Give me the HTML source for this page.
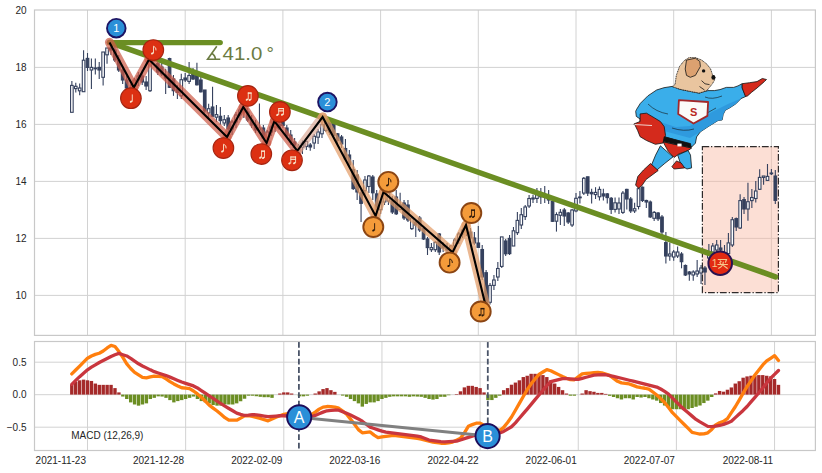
<!DOCTYPE html><html><head><meta charset="utf-8"><style>html,body{margin:0;padding:0;background:#fff;}svg{display:block;}text{font-family:"Liberation Sans",sans-serif;}</style></head><body>
<svg width="822" height="473" viewBox="0 0 822 473">
<rect width="822" height="473" fill="#fff"/>
<g stroke="#d2d2d2" stroke-width="1" fill="none">
<line x1="34.5" y1="238.4" x2="815.4" y2="238.4"/>
<line x1="34.5" y1="181.4" x2="815.4" y2="181.4"/>
<line x1="34.5" y1="124.4" x2="815.4" y2="124.4"/>
<line x1="34.5" y1="67.4" x2="815.4" y2="67.4"/>
<line x1="34.5" y1="295.4" x2="815.4" y2="295.4"/>
<line x1="87.5" y1="10.0" x2="87.5" y2="335.4"/>
<line x1="185.2" y1="10.0" x2="185.2" y2="335.4"/>
<line x1="282.9" y1="10.0" x2="282.9" y2="335.4"/>
<line x1="380.6" y1="10.0" x2="380.6" y2="335.4"/>
<line x1="478.3" y1="10.0" x2="478.3" y2="335.4"/>
<line x1="576" y1="10.0" x2="576" y2="335.4"/>
<line x1="673.7" y1="10.0" x2="673.7" y2="335.4"/>
<line x1="771.4" y1="10.0" x2="771.4" y2="335.4"/>
</g>
<g stroke="#d2d2d2" stroke-width="1" fill="none">
<line x1="34.5" y1="362.2" x2="815.4" y2="362.2"/>
<line x1="34.5" y1="394.7" x2="815.4" y2="394.7"/>
<line x1="34.5" y1="427.2" x2="815.4" y2="427.2"/>
<line x1="87.5" y1="341.5" x2="87.5" y2="450.5"/>
<line x1="185.65" y1="341.5" x2="185.65" y2="450.5"/>
<line x1="283.8" y1="341.5" x2="283.8" y2="450.5"/>
<line x1="381.95" y1="341.5" x2="381.95" y2="450.5"/>
<line x1="480.1" y1="341.5" x2="480.1" y2="450.5"/>
<line x1="578.25" y1="341.5" x2="578.25" y2="450.5"/>
<line x1="676.4" y1="341.5" x2="676.4" y2="450.5"/>
<line x1="774.55" y1="341.5" x2="774.55" y2="450.5"/>
</g>
<g font-size="10" fill="#262626" text-anchor="end">
<text x="26.5" y="299">10</text>
<text x="26.5" y="242">12</text>
<text x="26.5" y="185">14</text>
<text x="26.5" y="128">16</text>
<text x="26.5" y="71">18</text>
<text x="26.5" y="14">20</text>
<text x="26.5" y="365.8">0.5</text>
<text x="26.5" y="398.3">0.0</text>
<text x="26.5" y="430.8">−0.5</text>
<text x="86" y="464.3">2021-11-23</text>
<text x="184.15" y="464.3">2021-12-28</text>
<text x="282.3" y="464.3">2022-02-09</text>
<text x="380.45" y="464.3">2022-03-16</text>
<text x="478.6" y="464.3">2022-04-22</text>
<text x="576.75" y="464.3">2022-06-01</text>
<text x="674.9" y="464.3">2022-07-07</text>
<text x="773.05" y="464.3">2022-08-11</text>
</g>
<rect x="702.4" y="146.6" width="76" height="146" fill="#f9b9a2" fill-opacity="0.45"/>
<g stroke="#35415e" stroke-width="1.1">
<line x1="71.87" y1="80.9" x2="71.87" y2="112.3"/>
<rect x="70.57" y="85.4" width="2.6" height="26.9" fill="#fff"/>
<line x1="75.78" y1="82.7" x2="75.78" y2="92.5"/>
<rect x="74.48" y="86.3" width="2.6" height="2.3" fill="#fff"/>
<line x1="79.68" y1="83.6" x2="79.68" y2="95.3"/>
<rect x="78.38" y="88" width="2.6" height="2.8" fill="#fff"/>
<line x1="83.59" y1="50.3" x2="83.59" y2="91.7"/>
<rect x="82.29" y="60.2" width="2.6" height="31.5" fill="#fff"/>
<line x1="87.5" y1="53" x2="87.5" y2="71"/>
<rect x="86.2" y="58.4" width="2.6" height="9" fill="#35415e"/>
<line x1="91.41" y1="58.4" x2="91.41" y2="89"/>
<rect x="90.11" y="67.4" width="2.6" height="2.6" fill="#fff"/>
<line x1="95.32" y1="58.4" x2="95.32" y2="74.6"/>
<rect x="94.02" y="68" width="2.6" height="0.8" fill="#fff"/>
<line x1="99.22" y1="62" x2="99.22" y2="79"/>
<rect x="97.92" y="67.4" width="2.6" height="2.6" fill="#35415e"/>
<line x1="103.13" y1="52" x2="103.13" y2="85.4"/>
<rect x="101.83" y="52" width="2.6" height="25.3" fill="#fff"/>
<line x1="107.04" y1="48" x2="107.04" y2="63.8"/>
<rect x="105.74" y="48" width="2.6" height="6.8" fill="#fff"/>
<line x1="110.95" y1="42" x2="110.95" y2="55"/>
<rect x="109.65" y="48" width="2.6" height="2" fill="#35415e"/>
<line x1="114.86" y1="46" x2="114.86" y2="62"/>
<rect x="113.56" y="50" width="2.6" height="10" fill="#35415e"/>
<line x1="118.76" y1="55" x2="118.76" y2="72"/>
<rect x="117.46" y="60" width="2.6" height="10" fill="#35415e"/>
<line x1="122.67" y1="66" x2="122.67" y2="84"/>
<rect x="121.37" y="70" width="2.6" height="10" fill="#35415e"/>
<line x1="126.58" y1="76" x2="126.58" y2="92"/>
<rect x="125.28" y="80" width="2.6" height="8" fill="#35415e"/>
<line x1="130.49" y1="84" x2="130.49" y2="92"/>
<rect x="129.19" y="88" width="2.6" height="2" fill="#35415e"/>
<line x1="134.4" y1="78" x2="134.4" y2="88"/>
<rect x="133.1" y="80" width="2.6" height="6" fill="#fff"/>
<line x1="138.3" y1="72" x2="138.3" y2="86"/>
<rect x="137" y="76" width="2.6" height="4" fill="#fff"/>
<line x1="142.21" y1="70" x2="142.21" y2="85"/>
<rect x="140.91" y="76" width="2.6" height="6" fill="#35415e"/>
<line x1="146.12" y1="76" x2="146.12" y2="90"/>
<rect x="144.82" y="82" width="2.6" height="4" fill="#35415e"/>
<line x1="150.03" y1="48.5" x2="150.03" y2="92"/>
<rect x="148.73" y="50" width="2.6" height="40.7" fill="#fff"/>
<line x1="153.94" y1="48" x2="153.94" y2="62"/>
<rect x="152.64" y="50" width="2.6" height="8" fill="#35415e"/>
<line x1="157.84" y1="60" x2="157.84" y2="75"/>
<rect x="156.54" y="63.7" width="2.6" height="8.3" fill="#35415e"/>
<line x1="161.75" y1="63" x2="161.75" y2="76"/>
<rect x="160.45" y="67" width="2.6" height="6.8" fill="#35415e"/>
<line x1="165.66" y1="68.7" x2="165.66" y2="94"/>
<rect x="164.36" y="75" width="2.6" height="3" fill="#35415e"/>
<line x1="169.57" y1="57.7" x2="169.57" y2="88"/>
<rect x="168.27" y="58.6" width="2.6" height="28.7" fill="#35415e"/>
<line x1="173.48" y1="75" x2="173.48" y2="95.8"/>
<rect x="172.18" y="78.9" width="2.6" height="11.8" fill="#35415e"/>
<line x1="177.38" y1="85" x2="177.38" y2="99"/>
<rect x="176.08" y="89" width="2.6" height="3.4" fill="#35415e"/>
<line x1="181.29" y1="73.8" x2="181.29" y2="99"/>
<rect x="179.99" y="79.7" width="2.6" height="16.1" fill="#fff"/>
<line x1="185.2" y1="73" x2="185.2" y2="82"/>
<rect x="183.9" y="78" width="2.6" height="2" fill="#35415e"/>
<line x1="189.11" y1="62" x2="189.11" y2="84"/>
<rect x="187.81" y="75.5" width="2.6" height="5.9" fill="#fff"/>
<line x1="193.02" y1="68" x2="193.02" y2="80"/>
<rect x="191.72" y="73" width="2.6" height="6" fill="#35415e"/>
<line x1="196.92" y1="62.8" x2="196.92" y2="85.6"/>
<rect x="195.62" y="75.5" width="2.6" height="9.3" fill="#35415e"/>
<line x1="200.83" y1="77" x2="200.83" y2="92.4"/>
<rect x="199.53" y="80" width="2.6" height="11.8" fill="#35415e"/>
<line x1="204.74" y1="90" x2="204.74" y2="113"/>
<rect x="203.44" y="90" width="2.6" height="21" fill="#35415e"/>
<line x1="208.65" y1="103.7" x2="208.65" y2="118.9"/>
<rect x="207.35" y="108.7" width="2.6" height="4.3" fill="#fff"/>
<line x1="212.56" y1="86.8" x2="212.56" y2="117"/>
<rect x="211.26" y="107" width="2.6" height="9.3" fill="#35415e"/>
<line x1="216.46" y1="105" x2="216.46" y2="122"/>
<rect x="215.16" y="114.6" width="2.6" height="2.6" fill="#fff"/>
<line x1="220.37" y1="107" x2="220.37" y2="124.8"/>
<rect x="219.07" y="116.3" width="2.6" height="4.3" fill="#35415e"/>
<line x1="224.28" y1="115" x2="224.28" y2="126"/>
<rect x="222.98" y="119.7" width="2.6" height="3.3" fill="#fff"/>
<line x1="228.19" y1="115" x2="228.19" y2="137"/>
<rect x="226.89" y="118" width="2.6" height="11" fill="#35415e"/>
<line x1="232.1" y1="120" x2="232.1" y2="135"/>
<rect x="230.8" y="122" width="2.6" height="7" fill="#fff"/>
<line x1="236" y1="112" x2="236" y2="128"/>
<rect x="234.7" y="115" width="2.6" height="7" fill="#fff"/>
<line x1="239.91" y1="108" x2="239.91" y2="120"/>
<rect x="238.61" y="110" width="2.6" height="5" fill="#fff"/>
<line x1="243.82" y1="107" x2="243.82" y2="118"/>
<rect x="242.52" y="110" width="2.6" height="2" fill="#35415e"/>
<line x1="247.73" y1="108" x2="247.73" y2="122"/>
<rect x="246.43" y="112" width="2.6" height="8" fill="#35415e"/>
<line x1="251.64" y1="115" x2="251.64" y2="128"/>
<rect x="250.34" y="120" width="2.6" height="5" fill="#35415e"/>
<line x1="255.54" y1="120" x2="255.54" y2="133"/>
<rect x="254.24" y="125" width="2.6" height="5" fill="#35415e"/>
<line x1="259.45" y1="103.5" x2="259.45" y2="132"/>
<rect x="258.15" y="128" width="2.6" height="2" fill="#fff"/>
<line x1="263.36" y1="125" x2="263.36" y2="140"/>
<rect x="262.06" y="128" width="2.6" height="10" fill="#35415e"/>
<line x1="267.27" y1="130" x2="267.27" y2="143"/>
<rect x="265.97" y="132" width="2.6" height="6" fill="#fff"/>
<line x1="271.18" y1="125" x2="271.18" y2="136"/>
<rect x="269.88" y="127" width="2.6" height="5" fill="#fff"/>
<line x1="275.08" y1="121" x2="275.08" y2="132"/>
<rect x="273.78" y="124" width="2.6" height="3" fill="#fff"/>
<line x1="278.99" y1="120" x2="278.99" y2="130"/>
<rect x="277.69" y="124" width="2.6" height="4" fill="#35415e"/>
<line x1="282.9" y1="119" x2="282.9" y2="128"/>
<rect x="281.6" y="122" width="2.6" height="3.5" fill="#35415e"/>
<line x1="286.81" y1="125" x2="286.81" y2="138"/>
<rect x="285.51" y="128" width="2.6" height="7.6" fill="#35415e"/>
<line x1="290.72" y1="130" x2="290.72" y2="145"/>
<rect x="289.42" y="135" width="2.6" height="7" fill="#35415e"/>
<line x1="294.62" y1="138" x2="294.62" y2="151"/>
<rect x="293.32" y="142" width="2.6" height="6" fill="#35415e"/>
<line x1="298.53" y1="144" x2="298.53" y2="151"/>
<rect x="297.23" y="146" width="2.6" height="4.8" fill="#fff"/>
<line x1="302.44" y1="140.6" x2="302.44" y2="154"/>
<rect x="301.14" y="143" width="2.6" height="4.3" fill="#fff"/>
<line x1="306.35" y1="141" x2="306.35" y2="150"/>
<rect x="305.05" y="141.4" width="2.6" height="5.1" fill="#fff"/>
<line x1="310.26" y1="143" x2="310.26" y2="150.7"/>
<rect x="308.96" y="145" width="2.6" height="2" fill="#35415e"/>
<line x1="314.16" y1="134" x2="314.16" y2="149"/>
<rect x="312.86" y="136.3" width="2.6" height="6.7" fill="#fff"/>
<line x1="318.07" y1="129" x2="318.07" y2="144"/>
<rect x="316.77" y="132" width="2.6" height="5.2" fill="#fff"/>
<line x1="321.98" y1="118.6" x2="321.98" y2="138"/>
<rect x="320.68" y="124.5" width="2.6" height="9.3" fill="#fff"/>
<line x1="325.89" y1="117" x2="325.89" y2="132"/>
<rect x="324.59" y="118.6" width="2.6" height="11.8" fill="#fff"/>
<line x1="329.8" y1="118" x2="329.8" y2="135"/>
<rect x="328.5" y="120.3" width="2.6" height="11.7" fill="#35415e"/>
<line x1="333.7" y1="120" x2="333.7" y2="138"/>
<rect x="332.4" y="123.7" width="2.6" height="11.8" fill="#35415e"/>
<line x1="337.61" y1="133" x2="337.61" y2="144"/>
<rect x="336.31" y="133.8" width="2.6" height="6.8" fill="#35415e"/>
<line x1="341.52" y1="135" x2="341.52" y2="148"/>
<rect x="340.22" y="137" width="2.6" height="7" fill="#35415e"/>
<line x1="345.43" y1="139" x2="345.43" y2="160"/>
<rect x="344.13" y="148.5" width="2.6" height="10.5" fill="#35415e"/>
<line x1="349.34" y1="150" x2="349.34" y2="168"/>
<rect x="348.04" y="155" width="2.6" height="10" fill="#35415e"/>
<line x1="353.24" y1="160" x2="353.24" y2="190"/>
<rect x="351.94" y="169.6" width="2.6" height="19" fill="#35415e"/>
<line x1="357.15" y1="170" x2="357.15" y2="200"/>
<rect x="355.85" y="175" width="2.6" height="17" fill="#35415e"/>
<line x1="361.06" y1="188.6" x2="361.06" y2="222"/>
<rect x="359.76" y="192.8" width="2.6" height="10.6" fill="#35415e"/>
<line x1="364.97" y1="176" x2="364.97" y2="195"/>
<rect x="363.67" y="180" width="2.6" height="10.7" fill="#fff"/>
<line x1="368.88" y1="175" x2="368.88" y2="193"/>
<rect x="367.58" y="176" width="2.6" height="10.5" fill="#fff"/>
<line x1="372.78" y1="175" x2="372.78" y2="200"/>
<rect x="371.48" y="177" width="2.6" height="15.8" fill="#35415e"/>
<line x1="376.69" y1="190" x2="376.69" y2="215.9"/>
<rect x="375.39" y="193.9" width="2.6" height="15.8" fill="#35415e"/>
<line x1="380.6" y1="200" x2="380.6" y2="214"/>
<rect x="379.3" y="202" width="2.6" height="7.7" fill="#fff"/>
<line x1="384.51" y1="192" x2="384.51" y2="205"/>
<rect x="383.21" y="195" width="2.6" height="7" fill="#fff"/>
<line x1="388.42" y1="190" x2="388.42" y2="205"/>
<rect x="387.12" y="193" width="2.6" height="8" fill="#fff"/>
<line x1="392.32" y1="196" x2="392.32" y2="214"/>
<rect x="391.02" y="201" width="2.6" height="11" fill="#35415e"/>
<line x1="396.23" y1="190" x2="396.23" y2="215"/>
<rect x="394.93" y="197" width="2.6" height="16.8" fill="#35415e"/>
<line x1="400.14" y1="192.7" x2="400.14" y2="210"/>
<rect x="398.84" y="205" width="2.6" height="4.6" fill="#fff"/>
<line x1="404.05" y1="200" x2="404.05" y2="220"/>
<rect x="402.75" y="203" width="2.6" height="15" fill="#35415e"/>
<line x1="407.96" y1="200" x2="407.96" y2="222"/>
<rect x="406.66" y="205" width="2.6" height="15" fill="#35415e"/>
<line x1="411.86" y1="216" x2="411.86" y2="230"/>
<rect x="410.56" y="218" width="2.6" height="10.6" fill="#fff"/>
<line x1="415.77" y1="220" x2="415.77" y2="237"/>
<rect x="414.47" y="222" width="2.6" height="3" fill="#35415e"/>
<line x1="419.68" y1="216" x2="419.68" y2="232"/>
<rect x="418.38" y="218" width="2.6" height="12" fill="#35415e"/>
<line x1="423.59" y1="226" x2="423.59" y2="240"/>
<rect x="422.29" y="228.6" width="2.6" height="10.4" fill="#35415e"/>
<line x1="427.5" y1="237" x2="427.5" y2="255"/>
<rect x="426.2" y="239" width="2.6" height="8.6" fill="#35415e"/>
<line x1="431.4" y1="243" x2="431.4" y2="252"/>
<rect x="430.1" y="247.6" width="2.6" height="2.1" fill="#fff"/>
<line x1="435.31" y1="241" x2="435.31" y2="252"/>
<rect x="434.01" y="242.3" width="2.6" height="7.4" fill="#fff"/>
<line x1="439.22" y1="233" x2="439.22" y2="255"/>
<rect x="437.92" y="234" width="2.6" height="18" fill="#35415e"/>
<line x1="443.13" y1="242" x2="443.13" y2="252"/>
<rect x="441.83" y="245" width="2.6" height="3" fill="#35415e"/>
<line x1="447.04" y1="243" x2="447.04" y2="254"/>
<rect x="445.74" y="248" width="2.6" height="2" fill="#35415e"/>
<line x1="450.94" y1="245" x2="450.94" y2="252.2"/>
<rect x="449.64" y="246" width="2.6" height="4" fill="#fff"/>
<line x1="454.85" y1="238" x2="454.85" y2="250"/>
<rect x="453.55" y="240" width="2.6" height="6" fill="#fff"/>
<line x1="458.76" y1="232" x2="458.76" y2="244"/>
<rect x="457.46" y="234" width="2.6" height="6" fill="#fff"/>
<line x1="462.67" y1="228" x2="462.67" y2="238"/>
<rect x="461.37" y="230" width="2.6" height="4" fill="#fff"/>
<line x1="466.58" y1="225" x2="466.58" y2="236"/>
<rect x="465.28" y="230" width="2.6" height="2" fill="#35415e"/>
<line x1="470.48" y1="228" x2="470.48" y2="240"/>
<rect x="469.18" y="232" width="2.6" height="6" fill="#35415e"/>
<line x1="474.39" y1="232" x2="474.39" y2="245"/>
<rect x="473.09" y="238" width="2.6" height="5" fill="#35415e"/>
<line x1="478.3" y1="226" x2="478.3" y2="247.4"/>
<rect x="477" y="243" width="2.6" height="4.4" fill="#35415e"/>
<line x1="482.21" y1="245" x2="482.21" y2="280"/>
<rect x="480.91" y="249.5" width="2.6" height="27.5" fill="#35415e"/>
<line x1="486.12" y1="270" x2="486.12" y2="304"/>
<rect x="484.82" y="272.7" width="2.6" height="29.6" fill="#35415e"/>
<line x1="490.02" y1="283" x2="490.02" y2="304.4"/>
<rect x="488.72" y="285.4" width="2.6" height="16.9" fill="#fff"/>
<line x1="493.93" y1="275" x2="493.93" y2="290"/>
<rect x="492.63" y="280" width="2.6" height="5.4" fill="#fff"/>
<line x1="497.84" y1="262" x2="497.84" y2="281"/>
<rect x="496.54" y="268.5" width="2.6" height="8.5" fill="#fff"/>
<line x1="501.75" y1="236.9" x2="501.75" y2="268"/>
<rect x="500.45" y="236.9" width="2.6" height="29.5" fill="#fff"/>
<line x1="505.66" y1="239" x2="505.66" y2="256"/>
<rect x="504.36" y="241" width="2.6" height="12.8" fill="#35415e"/>
<line x1="509.56" y1="235" x2="509.56" y2="255"/>
<rect x="508.26" y="238.4" width="2.6" height="15.2" fill="#35415e"/>
<line x1="513.47" y1="227" x2="513.47" y2="246"/>
<rect x="512.17" y="230.8" width="2.6" height="15.2" fill="#fff"/>
<line x1="517.38" y1="212" x2="517.38" y2="235"/>
<rect x="516.08" y="220.4" width="2.6" height="12.3" fill="#fff"/>
<line x1="521.29" y1="208" x2="521.29" y2="229"/>
<rect x="519.99" y="214.7" width="2.6" height="10.3" fill="#fff"/>
<line x1="525.2" y1="205" x2="525.2" y2="220"/>
<rect x="523.9" y="207" width="2.6" height="9.6" fill="#fff"/>
<line x1="529.1" y1="195" x2="529.1" y2="208"/>
<rect x="527.8" y="198.5" width="2.6" height="7.5" fill="#fff"/>
<line x1="533.01" y1="194.7" x2="533.01" y2="203"/>
<rect x="531.71" y="198" width="2.6" height="1" fill="#fff"/>
<line x1="536.92" y1="188" x2="536.92" y2="203"/>
<rect x="535.62" y="194.7" width="2.6" height="3.8" fill="#fff"/>
<line x1="540.83" y1="188" x2="540.83" y2="204"/>
<rect x="539.53" y="196" width="2.6" height="0.8" fill="#35415e"/>
<line x1="544.74" y1="186" x2="544.74" y2="203"/>
<rect x="543.44" y="195" width="2.6" height="2" fill="#35415e"/>
<line x1="548.64" y1="190" x2="548.64" y2="204"/>
<rect x="547.34" y="197" width="2.6" height="3" fill="#35415e"/>
<line x1="552.55" y1="200" x2="552.55" y2="222"/>
<rect x="551.25" y="201.4" width="2.6" height="19.9" fill="#35415e"/>
<line x1="556.46" y1="212.3" x2="556.46" y2="231.6"/>
<rect x="555.16" y="214.6" width="2.6" height="6.6" fill="#fff"/>
<line x1="560.37" y1="209" x2="560.37" y2="225"/>
<rect x="559.07" y="212.3" width="2.6" height="3" fill="#fff"/>
<line x1="564.28" y1="208" x2="564.28" y2="226"/>
<rect x="562.98" y="210" width="2.6" height="6" fill="#35415e"/>
<line x1="568.18" y1="212" x2="568.18" y2="224"/>
<rect x="566.88" y="213" width="2.6" height="9" fill="#35415e"/>
<line x1="572.09" y1="209" x2="572.09" y2="227"/>
<rect x="570.79" y="210" width="2.6" height="15" fill="#fff"/>
<line x1="576" y1="193" x2="576" y2="212.3"/>
<rect x="574.7" y="198.3" width="2.6" height="12.6" fill="#fff"/>
<line x1="579.91" y1="191" x2="579.91" y2="203.5"/>
<rect x="578.61" y="197" width="2.6" height="0.8" fill="#35415e"/>
<line x1="583.82" y1="177" x2="583.82" y2="195"/>
<rect x="582.52" y="178.3" width="2.6" height="14.8" fill="#fff"/>
<line x1="587.72" y1="176.8" x2="587.72" y2="196"/>
<rect x="586.42" y="176.8" width="2.6" height="16.3" fill="#35415e"/>
<line x1="591.63" y1="188.7" x2="591.63" y2="203.5"/>
<rect x="590.33" y="192.4" width="2.6" height="1.4" fill="#35415e"/>
<line x1="595.54" y1="187.2" x2="595.54" y2="199"/>
<rect x="594.24" y="192.4" width="2.6" height="2.2" fill="#fff"/>
<line x1="599.45" y1="186.5" x2="599.45" y2="200.5"/>
<rect x="598.15" y="189.4" width="2.6" height="7.4" fill="#fff"/>
<line x1="603.36" y1="188.7" x2="603.36" y2="200.5"/>
<rect x="602.06" y="193.9" width="2.6" height="2.1" fill="#35415e"/>
<line x1="607.26" y1="193" x2="607.26" y2="203.5"/>
<rect x="605.96" y="193.9" width="2.6" height="3.7" fill="#35415e"/>
<line x1="611.17" y1="196.9" x2="611.17" y2="213.9"/>
<rect x="609.87" y="198.3" width="2.6" height="11.1" fill="#35415e"/>
<line x1="615.08" y1="197.6" x2="615.08" y2="212.4"/>
<rect x="613.78" y="202.8" width="2.6" height="6.6" fill="#fff"/>
<line x1="618.99" y1="197.6" x2="618.99" y2="214"/>
<rect x="617.69" y="203" width="2.6" height="6" fill="#fff"/>
<line x1="622.9" y1="191" x2="622.9" y2="214"/>
<rect x="621.6" y="193.1" width="2.6" height="19.3" fill="#fff"/>
<line x1="626.8" y1="188.7" x2="626.8" y2="209.4"/>
<rect x="625.5" y="189.4" width="2.6" height="9.6" fill="#35415e"/>
<line x1="630.71" y1="196.9" x2="630.71" y2="213.1"/>
<rect x="629.41" y="199" width="2.6" height="11.9" fill="#35415e"/>
<line x1="634.62" y1="202.8" x2="634.62" y2="213.1"/>
<rect x="633.32" y="208.7" width="2.6" height="2.2" fill="#fff"/>
<line x1="638.53" y1="187.2" x2="638.53" y2="209.4"/>
<rect x="637.23" y="188.7" width="2.6" height="17.8" fill="#fff"/>
<line x1="642.44" y1="186.5" x2="642.44" y2="202"/>
<rect x="641.14" y="187.2" width="2.6" height="13.3" fill="#35415e"/>
<line x1="646.34" y1="199.8" x2="646.34" y2="208"/>
<rect x="645.04" y="200.5" width="2.6" height="1.5" fill="#35415e"/>
<line x1="650.25" y1="200.5" x2="650.25" y2="218"/>
<rect x="648.95" y="202" width="2.6" height="14.9" fill="#35415e"/>
<line x1="654.16" y1="211" x2="654.16" y2="221"/>
<rect x="652.86" y="212.4" width="2.6" height="5.9" fill="#fff"/>
<line x1="658.07" y1="212" x2="658.07" y2="221"/>
<rect x="656.77" y="213" width="2.6" height="5.8" fill="#35415e"/>
<line x1="661.98" y1="215" x2="661.98" y2="235"/>
<rect x="660.68" y="217" width="2.6" height="15" fill="#35415e"/>
<line x1="665.88" y1="232" x2="665.88" y2="263.6"/>
<rect x="664.58" y="242.6" width="2.6" height="13.4" fill="#35415e"/>
<line x1="669.79" y1="242.6" x2="669.79" y2="260.7"/>
<rect x="668.49" y="254" width="2.6" height="2" fill="#fff"/>
<line x1="673.7" y1="250" x2="673.7" y2="260.7"/>
<rect x="672.4" y="252" width="2.6" height="5" fill="#fff"/>
<line x1="677.61" y1="246.4" x2="677.61" y2="257.9"/>
<rect x="676.31" y="252" width="2.6" height="4" fill="#fff"/>
<line x1="681.52" y1="252.1" x2="681.52" y2="268.3"/>
<rect x="680.22" y="254" width="2.6" height="7.7" fill="#35415e"/>
<line x1="685.42" y1="264.5" x2="685.42" y2="276"/>
<rect x="684.12" y="265.5" width="2.6" height="9.5" fill="#35415e"/>
<line x1="689.33" y1="271" x2="689.33" y2="280.7"/>
<rect x="688.03" y="272" width="2.6" height="2" fill="#35415e"/>
<line x1="693.24" y1="270.2" x2="693.24" y2="280.7"/>
<rect x="691.94" y="272" width="2.6" height="3" fill="#fff"/>
<line x1="697.15" y1="260" x2="697.15" y2="277"/>
<rect x="695.85" y="271" width="2.6" height="3" fill="#fff"/>
<line x1="701.06" y1="265" x2="701.06" y2="284"/>
<rect x="699.76" y="268" width="2.6" height="5" fill="#fff"/>
<line x1="704.96" y1="266" x2="704.96" y2="285"/>
<rect x="703.66" y="268" width="2.6" height="4" fill="#35415e"/>
<line x1="708.87" y1="244" x2="708.87" y2="262"/>
<rect x="707.57" y="252" width="2.6" height="6" fill="#fff"/>
<line x1="712.78" y1="243" x2="712.78" y2="254"/>
<rect x="711.48" y="246" width="2.6" height="6" fill="#fff"/>
<line x1="716.69" y1="240" x2="716.69" y2="252"/>
<rect x="715.39" y="245" width="2.6" height="5" fill="#fff"/>
<line x1="720.6" y1="240" x2="720.6" y2="255"/>
<rect x="719.3" y="248" width="2.6" height="2" fill="#35415e"/>
<line x1="724.5" y1="245" x2="724.5" y2="262"/>
<rect x="723.2" y="253.5" width="2.6" height="1.5" fill="#fff"/>
<line x1="728.41" y1="233" x2="728.41" y2="254.5"/>
<rect x="727.11" y="242.9" width="2.6" height="10.6" fill="#fff"/>
<line x1="732.32" y1="217" x2="732.32" y2="247"/>
<rect x="731.02" y="219.7" width="2.6" height="25.3" fill="#fff"/>
<line x1="736.23" y1="217.5" x2="736.23" y2="231"/>
<rect x="734.93" y="218.6" width="2.6" height="8.4" fill="#35415e"/>
<line x1="740.14" y1="194.3" x2="740.14" y2="229"/>
<rect x="738.84" y="200.6" width="2.6" height="27.4" fill="#fff"/>
<line x1="744.04" y1="197" x2="744.04" y2="214"/>
<rect x="742.74" y="199.6" width="2.6" height="9.4" fill="#35415e"/>
<line x1="747.95" y1="182.7" x2="747.95" y2="220.7"/>
<rect x="746.65" y="201.7" width="2.6" height="7.3" fill="#fff"/>
<line x1="751.86" y1="189" x2="751.86" y2="208"/>
<rect x="750.56" y="197.5" width="2.6" height="3.1" fill="#fff"/>
<line x1="755.77" y1="181" x2="755.77" y2="202.6"/>
<rect x="754.47" y="191" width="2.6" height="7.5" fill="#fff"/>
<line x1="759.68" y1="169.3" x2="759.68" y2="190"/>
<rect x="758.38" y="177.4" width="2.6" height="11.9" fill="#fff"/>
<line x1="763.58" y1="176" x2="763.58" y2="184.8"/>
<rect x="762.28" y="176" width="2.6" height="1.4" fill="#fff"/>
<line x1="767.49" y1="164" x2="767.49" y2="180.4"/>
<rect x="766.19" y="176.4" width="2.6" height="4" fill="#fff"/>
<line x1="771.4" y1="169" x2="771.4" y2="175"/>
<rect x="770.1" y="173" width="2.6" height="0.8" fill="#fff"/>
<line x1="775.31" y1="170" x2="775.31" y2="204"/>
<rect x="774.01" y="176" width="2.6" height="24.4" fill="#35415e"/>
</g>
<rect x="70.1" y="384.72" width="3.4" height="9.88" fill="#a52a2a"/>
<rect x="74.02" y="381.6" width="3.4" height="13" fill="#a52a2a"/>
<rect x="77.95" y="380.3" width="3.4" height="14.3" fill="#a52a2a"/>
<rect x="81.87" y="379.65" width="3.4" height="14.95" fill="#a52a2a"/>
<rect x="85.8" y="380.3" width="3.4" height="14.3" fill="#a52a2a"/>
<rect x="89.73" y="380.95" width="3.4" height="13.65" fill="#a52a2a"/>
<rect x="93.65" y="383.55" width="3.4" height="11.05" fill="#a52a2a"/>
<rect x="97.58" y="384.85" width="3.4" height="9.75" fill="#a52a2a"/>
<rect x="101.5" y="384.85" width="3.4" height="9.75" fill="#a52a2a"/>
<rect x="105.43" y="384.85" width="3.4" height="9.75" fill="#a52a2a"/>
<rect x="109.36" y="384.85" width="3.4" height="9.75" fill="#a52a2a"/>
<rect x="113.28" y="388.1" width="3.4" height="6.5" fill="#a52a2a"/>
<rect x="117.21" y="392.39" width="3.4" height="2.21" fill="#a52a2a"/>
<rect x="121.13" y="394.6" width="3.4" height="1.95" fill="#6b8e23"/>
<rect x="125.06" y="394.6" width="3.4" height="4.42" fill="#6b8e23"/>
<rect x="128.99" y="394.6" width="3.4" height="7.8" fill="#6b8e23"/>
<rect x="132.91" y="394.6" width="3.4" height="9.88" fill="#6b8e23"/>
<rect x="136.84" y="394.6" width="3.4" height="11.05" fill="#6b8e23"/>
<rect x="140.76" y="394.6" width="3.4" height="9.88" fill="#6b8e23"/>
<rect x="144.69" y="394.6" width="3.4" height="8.77" fill="#6b8e23"/>
<rect x="148.62" y="394.6" width="3.4" height="4.42" fill="#6b8e23"/>
<rect x="152.54" y="394.6" width="3.4" height="3.25" fill="#6b8e23"/>
<rect x="156.47" y="394.6" width="3.4" height="1.75" fill="#6b8e23"/>
<rect x="160.39" y="394.6" width="3.4" height="1.95" fill="#6b8e23"/>
<rect x="164.32" y="394.6" width="3.4" height="3.25" fill="#6b8e23"/>
<rect x="168.25" y="394.6" width="3.4" height="5.52" fill="#6b8e23"/>
<rect x="172.17" y="394.6" width="3.4" height="7.8" fill="#6b8e23"/>
<rect x="176.1" y="394.6" width="3.4" height="6.5" fill="#6b8e23"/>
<rect x="180.02" y="394.6" width="3.4" height="5.52" fill="#6b8e23"/>
<rect x="183.95" y="394.6" width="3.4" height="4.42" fill="#6b8e23"/>
<rect x="187.88" y="394.6" width="3.4" height="3.25" fill="#6b8e23"/>
<rect x="191.8" y="394.6" width="3.4" height="1.95" fill="#6b8e23"/>
<rect x="195.73" y="394.6" width="3.4" height="4.42" fill="#6b8e23"/>
<rect x="199.65" y="394.6" width="3.4" height="6.5" fill="#6b8e23"/>
<rect x="203.58" y="394.6" width="3.4" height="7.71" fill="#6b8e23"/>
<rect x="207.51" y="394.6" width="3.4" height="8.77" fill="#6b8e23"/>
<rect x="211.43" y="394.6" width="3.4" height="10.46" fill="#6b8e23"/>
<rect x="215.36" y="394.6" width="3.4" height="11.05" fill="#6b8e23"/>
<rect x="219.28" y="394.6" width="3.4" height="11.05" fill="#6b8e23"/>
<rect x="223.21" y="394.6" width="3.4" height="9.88" fill="#6b8e23"/>
<rect x="227.14" y="394.6" width="3.4" height="9.88" fill="#6b8e23"/>
<rect x="231.06" y="394.6" width="3.4" height="9.88" fill="#6b8e23"/>
<rect x="234.99" y="394.6" width="3.4" height="8.77" fill="#6b8e23"/>
<rect x="238.91" y="394.6" width="3.4" height="6.66" fill="#6b8e23"/>
<rect x="242.84" y="394.6" width="3.4" height="4.13" fill="#6b8e23"/>
<rect x="246.77" y="394.6" width="3.4" height="1.11" fill="#6b8e23"/>
<rect x="250.69" y="394.6" width="3.4" height="1.11" fill="#6b8e23"/>
<rect x="254.62" y="394.6" width="3.4" height="1.62" fill="#6b8e23"/>
<rect x="258.54" y="394.6" width="3.4" height="2.21" fill="#6b8e23"/>
<rect x="262.47" y="394.6" width="3.4" height="2.6" fill="#6b8e23"/>
<rect x="266.4" y="394.6" width="3.4" height="2.6" fill="#6b8e23"/>
<rect x="270.32" y="394.6" width="3.4" height="3.25" fill="#6b8e23"/>
<rect x="278.17" y="393.5" width="3.4" height="1.11" fill="#a52a2a"/>
<rect x="282.1" y="392.39" width="3.4" height="2.21" fill="#a52a2a"/>
<rect x="286.03" y="392.39" width="3.4" height="2.21" fill="#a52a2a"/>
<rect x="289.95" y="393.5" width="3.4" height="1.11" fill="#a52a2a"/>
<rect x="297.8" y="394.6" width="3.4" height="1.75" fill="#6b8e23"/>
<rect x="301.73" y="394.6" width="3.4" height="1.75" fill="#6b8e23"/>
<rect x="305.66" y="394.6" width="3.4" height="1.11" fill="#6b8e23"/>
<rect x="313.51" y="393.5" width="3.4" height="1.11" fill="#a52a2a"/>
<rect x="317.43" y="391.35" width="3.4" height="3.25" fill="#a52a2a"/>
<rect x="321.36" y="389.08" width="3.4" height="5.52" fill="#a52a2a"/>
<rect x="325.29" y="388.1" width="3.4" height="6.5" fill="#a52a2a"/>
<rect x="329.21" y="390.18" width="3.4" height="4.42" fill="#a52a2a"/>
<rect x="333.14" y="391.87" width="3.4" height="2.73" fill="#a52a2a"/>
<rect x="340.99" y="394.6" width="3.4" height="0.99" fill="#6b8e23"/>
<rect x="344.92" y="394.6" width="3.4" height="2.21" fill="#6b8e23"/>
<rect x="348.84" y="394.6" width="3.4" height="4.42" fill="#6b8e23"/>
<rect x="352.77" y="394.6" width="3.4" height="6.5" fill="#6b8e23"/>
<rect x="356.69" y="394.6" width="3.4" height="8.77" fill="#6b8e23"/>
<rect x="360.62" y="394.6" width="3.4" height="12.02" fill="#6b8e23"/>
<rect x="364.55" y="394.6" width="3.4" height="9.33" fill="#6b8e23"/>
<rect x="368.47" y="394.6" width="3.4" height="7.8" fill="#6b8e23"/>
<rect x="372.4" y="394.6" width="3.4" height="7.8" fill="#6b8e23"/>
<rect x="376.32" y="394.6" width="3.4" height="6.5" fill="#6b8e23"/>
<rect x="380.25" y="394.6" width="3.4" height="4.42" fill="#6b8e23"/>
<rect x="384.18" y="394.6" width="3.4" height="3.25" fill="#6b8e23"/>
<rect x="388.1" y="394.6" width="3.4" height="2.21" fill="#6b8e23"/>
<rect x="392.03" y="394.6" width="3.4" height="1.75" fill="#6b8e23"/>
<rect x="395.95" y="394.6" width="3.4" height="1.75" fill="#6b8e23"/>
<rect x="399.88" y="394.6" width="3.4" height="1.75" fill="#6b8e23"/>
<rect x="403.81" y="394.6" width="3.4" height="1.75" fill="#6b8e23"/>
<rect x="407.73" y="394.6" width="3.4" height="2.21" fill="#6b8e23"/>
<rect x="411.66" y="394.6" width="3.4" height="1.75" fill="#6b8e23"/>
<rect x="415.58" y="394.6" width="3.4" height="1.98" fill="#6b8e23"/>
<rect x="419.51" y="394.6" width="3.4" height="2.21" fill="#6b8e23"/>
<rect x="423.44" y="394.6" width="3.4" height="3.25" fill="#6b8e23"/>
<rect x="427.36" y="394.6" width="3.4" height="4.42" fill="#6b8e23"/>
<rect x="431.29" y="394.6" width="3.4" height="5" fill="#6b8e23"/>
<rect x="435.21" y="394.6" width="3.4" height="4.42" fill="#6b8e23"/>
<rect x="439.14" y="394.6" width="3.4" height="2.21" fill="#6b8e23"/>
<rect x="443.07" y="394.6" width="3.4" height="2.21" fill="#6b8e23"/>
<rect x="446.99" y="394.6" width="3.4" height="0.65" fill="#6b8e23"/>
<rect x="454.84" y="394.06" width="3.4" height="0.54" fill="#a52a2a"/>
<rect x="458.77" y="391.32" width="3.4" height="3.28" fill="#a52a2a"/>
<rect x="462.7" y="387.38" width="3.4" height="7.22" fill="#a52a2a"/>
<rect x="466.62" y="385.83" width="3.4" height="8.77" fill="#a52a2a"/>
<rect x="470.55" y="385.83" width="3.4" height="8.77" fill="#a52a2a"/>
<rect x="474.47" y="386.93" width="3.4" height="7.67" fill="#a52a2a"/>
<rect x="478.4" y="388.1" width="3.4" height="6.5" fill="#a52a2a"/>
<rect x="482.33" y="392.39" width="3.4" height="2.21" fill="#a52a2a"/>
<rect x="486.25" y="394.6" width="3.4" height="5.46" fill="#6b8e23"/>
<rect x="490.18" y="394.6" width="3.4" height="5.46" fill="#6b8e23"/>
<rect x="494.1" y="394.6" width="3.4" height="3.25" fill="#6b8e23"/>
<rect x="498.03" y="394.6" width="3.4" height="1.11" fill="#6b8e23"/>
<rect x="501.96" y="390.18" width="3.4" height="4.42" fill="#a52a2a"/>
<rect x="505.88" y="388.1" width="3.4" height="6.5" fill="#a52a2a"/>
<rect x="509.81" y="384.72" width="3.4" height="9.88" fill="#a52a2a"/>
<rect x="513.73" y="382.58" width="3.4" height="12.02" fill="#a52a2a"/>
<rect x="517.66" y="380.3" width="3.4" height="14.3" fill="#a52a2a"/>
<rect x="521.59" y="377.05" width="3.4" height="17.55" fill="#a52a2a"/>
<rect x="525.51" y="375.75" width="3.4" height="18.85" fill="#a52a2a"/>
<rect x="529.44" y="373.8" width="3.4" height="20.8" fill="#a52a2a"/>
<rect x="533.36" y="373.8" width="3.4" height="20.8" fill="#a52a2a"/>
<rect x="537.29" y="373.8" width="3.4" height="20.8" fill="#a52a2a"/>
<rect x="541.22" y="375.1" width="3.4" height="19.5" fill="#a52a2a"/>
<rect x="545.14" y="377.05" width="3.4" height="17.55" fill="#a52a2a"/>
<rect x="549.07" y="380.3" width="3.4" height="14.3" fill="#a52a2a"/>
<rect x="552.99" y="383.55" width="3.4" height="11.05" fill="#a52a2a"/>
<rect x="556.92" y="386.93" width="3.4" height="7.67" fill="#a52a2a"/>
<rect x="560.85" y="390.18" width="3.4" height="4.42" fill="#a52a2a"/>
<rect x="564.77" y="393.5" width="3.4" height="1.11" fill="#a52a2a"/>
<rect x="568.7" y="394.6" width="3.4" height="1.11" fill="#6b8e23"/>
<rect x="572.62" y="394.6" width="3.4" height="1.11" fill="#6b8e23"/>
<rect x="580.48" y="393.5" width="3.4" height="1.11" fill="#a52a2a"/>
<rect x="584.4" y="390.18" width="3.4" height="4.42" fill="#a52a2a"/>
<rect x="588.33" y="391.16" width="3.4" height="3.44" fill="#a52a2a"/>
<rect x="592.25" y="391.77" width="3.4" height="2.83" fill="#a52a2a"/>
<rect x="596.18" y="392.91" width="3.4" height="1.69" fill="#a52a2a"/>
<rect x="600.11" y="392.91" width="3.4" height="1.69" fill="#a52a2a"/>
<rect x="604.03" y="393.89" width="3.4" height="0.71" fill="#a52a2a"/>
<rect x="607.96" y="394.6" width="3.4" height="1.24" fill="#6b8e23"/>
<rect x="611.88" y="394.6" width="3.4" height="2.4" fill="#6b8e23"/>
<rect x="615.81" y="394.6" width="3.4" height="3.64" fill="#6b8e23"/>
<rect x="619.74" y="394.6" width="3.4" height="4.88" fill="#6b8e23"/>
<rect x="623.66" y="394.6" width="3.4" height="3.64" fill="#6b8e23"/>
<rect x="627.59" y="394.6" width="3.4" height="3.64" fill="#6b8e23"/>
<rect x="631.51" y="394.6" width="3.4" height="4.88" fill="#6b8e23"/>
<rect x="635.44" y="394.6" width="3.4" height="2.4" fill="#6b8e23"/>
<rect x="639.37" y="394.6" width="3.4" height="2.93" fill="#6b8e23"/>
<rect x="643.29" y="394.6" width="3.4" height="2.4" fill="#6b8e23"/>
<rect x="647.22" y="394.6" width="3.4" height="3.64" fill="#6b8e23"/>
<rect x="651.14" y="394.6" width="3.4" height="4.88" fill="#6b8e23"/>
<rect x="655.07" y="394.6" width="3.4" height="6.05" fill="#6b8e23"/>
<rect x="659" y="394.6" width="3.4" height="8.45" fill="#6b8e23"/>
<rect x="662.92" y="394.6" width="3.4" height="10.92" fill="#6b8e23"/>
<rect x="666.85" y="394.6" width="3.4" height="13.39" fill="#6b8e23"/>
<rect x="670.77" y="394.6" width="3.4" height="14.62" fill="#6b8e23"/>
<rect x="674.7" y="394.6" width="3.4" height="14.62" fill="#6b8e23"/>
<rect x="678.63" y="394.6" width="3.4" height="14.62" fill="#6b8e23"/>
<rect x="682.55" y="394.6" width="3.4" height="14.62" fill="#6b8e23"/>
<rect x="686.48" y="394.6" width="3.4" height="14.62" fill="#6b8e23"/>
<rect x="690.4" y="394.6" width="3.4" height="13.39" fill="#6b8e23"/>
<rect x="694.33" y="394.6" width="3.4" height="12.15" fill="#6b8e23"/>
<rect x="698.26" y="394.6" width="3.4" height="10.92" fill="#6b8e23"/>
<rect x="702.18" y="394.6" width="3.4" height="8.45" fill="#6b8e23"/>
<rect x="706.11" y="394.6" width="3.4" height="6.05" fill="#6b8e23"/>
<rect x="710.03" y="394.6" width="3.4" height="2.4" fill="#6b8e23"/>
<rect x="713.96" y="393.37" width="3.4" height="1.24" fill="#a52a2a"/>
<rect x="717.89" y="390.96" width="3.4" height="3.64" fill="#a52a2a"/>
<rect x="721.81" y="391.68" width="3.4" height="2.93" fill="#a52a2a"/>
<rect x="725.74" y="389.73" width="3.4" height="4.88" fill="#a52a2a"/>
<rect x="729.66" y="387.45" width="3.4" height="7.15" fill="#a52a2a"/>
<rect x="733.59" y="383.55" width="3.4" height="11.05" fill="#a52a2a"/>
<rect x="737.52" y="381.21" width="3.4" height="13.39" fill="#a52a2a"/>
<rect x="741.44" y="377.7" width="3.4" height="16.9" fill="#a52a2a"/>
<rect x="745.37" y="376.4" width="3.4" height="18.2" fill="#a52a2a"/>
<rect x="749.29" y="375.75" width="3.4" height="18.85" fill="#a52a2a"/>
<rect x="753.22" y="375.75" width="3.4" height="18.85" fill="#a52a2a"/>
<rect x="757.15" y="375.1" width="3.4" height="19.5" fill="#a52a2a"/>
<rect x="761.07" y="375.1" width="3.4" height="19.5" fill="#a52a2a"/>
<rect x="765" y="375.75" width="3.4" height="18.85" fill="#a52a2a"/>
<rect x="768.92" y="376.4" width="3.4" height="18.2" fill="#a52a2a"/>
<rect x="772.85" y="379" width="3.4" height="15.6" fill="#a52a2a"/>
<rect x="776.78" y="384.85" width="3.4" height="9.75" fill="#a52a2a"/>
<polyline points="71.8,373.9 75.72,369.98 79.65,366.05 83.57,362.13 87.5,358.2 91.43,356.04 95.35,354.36 99.28,353.28 103.2,351.04 107.13,347.95 111.06,345.39 114.98,346.49 118.91,351.55 122.83,357.37 126.76,363.88 130.69,368.49 134.61,372.41 138.54,374.93 142.46,377.38 146.39,377.81 150.32,376.8 154.24,376.06 158.17,376.36 162.09,376.65 166.02,378.95 169.95,381.61 173.87,383.95 177.8,385.93 181.72,387.75 185.65,388.21 189.58,388.68 193.5,390.98 197.43,393.94 201.35,397.25 205.28,401.18 209.21,405.1 213.13,408.06 217.06,411.01 220.98,414.26 224.91,417.68 228.84,420.2 232.76,420.2 236.69,420.2 240.61,418.15 244.54,415.87 248.47,415.6 252.39,416.36 256.32,417.34 260.24,418.43 264.17,419.7 268.1,420.81 272.02,419.04 275.95,417.27 279.87,415.72 283.8,414.29 287.73,413.66 291.65,414.81 295.58,415.96 299.5,416.47 303.43,415.82 307.36,415.18 311.28,414.53 315.21,412.06 319.13,409.11 323.06,407.14 326.99,406.52 330.91,406.6 334.84,407.06 338.76,408.2 342.69,411.16 346.62,414.11 350.54,419.11 354.47,424.33 358.39,429.62 362.32,432.83 366.25,432.37 370.17,431.9 374.1,435.13 378.02,437.56 381.95,436.89 385.88,436.28 389.8,435.78 393.73,435.33 397.65,435.84 401.58,436.34 405.51,436.85 409.43,437.36 413.36,437.88 417.28,438.42 421.21,439.11 425.14,440.12 429.06,441.13 432.99,442.14 436.91,442.73 440.84,443.23 444.77,443.26 448.69,442.75 452.62,442.09 456.54,440.15 460.47,438.21 464.4,432.86 468.32,426.3 472.25,424.63 476.17,423.19 480.1,423.15 484.03,425.22 487.95,428.18 491.88,428.94 495.8,429.7 499.73,430.46 503.66,427.39 507.58,422.49 511.51,417.01 515.43,410.2 519.36,403.39 523.29,396.51 527.21,389.63 531.14,383.83 535.06,378.94 538.99,374.47 542.92,372.02 546.84,369.57 550.77,370.71 554.69,372.7 558.62,374.64 562.55,376.58 566.47,378.21 570.4,379.68 574.32,379.78 578.25,376.82 582.18,373.87 586.1,373.38 590.03,373.03 593.95,372.69 597.88,372.29 601.81,372.79 605.73,374.07 609.66,375.42 613.58,378.37 617.51,381.33 621.44,382.88 625.36,383.36 629.29,383.94 633.21,385.38 637.14,386.83 641.07,387.72 644.99,388.24 648.92,389.09 652.84,392.04 656.77,395 660.7,398.6 664.62,402.52 668.55,407.48 672.47,412.7 676.4,416.66 680.33,420.55 684.25,424.47 688.18,428.44 692.1,432.4 696.03,433.25 699.96,434.02 703.88,433.88 707.81,432.86 711.73,429.51 715.66,424.89 719.59,422.77 723.51,421.32 727.44,418.59 731.36,412.68 735.29,406.77 739.22,400.06 743.14,393.18 747.07,386.66 750.99,380.81 754.92,374.96 758.85,369.89 762.77,364.95 766.7,360.9 770.62,358.26 774.55,355.63 778.48,360.54" fill="none" stroke="#ff7f0e" stroke-width="3.3" stroke-linejoin="round" stroke-linecap="round"/>
<polyline points="71.8,384.32 75.72,380.44 79.65,376.64 83.57,373.22 87.5,369.8 91.43,367.21 95.35,364.84 99.28,362.48 103.2,360.45 107.13,358.49 111.06,356.52 114.98,354.81 118.91,353.43 122.83,354.7 126.76,355.96 130.69,358.32 134.61,361.06 138.54,363.8 142.46,365.93 146.39,367.89 150.32,369.86 154.24,371.68 158.17,372.98 162.09,374.28 166.02,375.58 169.95,377.12 173.87,378.77 177.8,380.42 181.72,382.04 185.65,383.34 189.58,384.64 193.5,385.94 197.43,387.98 201.35,390.59 205.28,393.2 209.21,395.8 213.13,398.43 217.06,401.06 220.98,403.68 224.91,406.16 228.84,408.46 232.76,410.76 236.69,413.06 240.61,414.32 244.54,415.47 248.47,415.14 252.39,414.61 256.32,414.78 260.24,415.43 264.17,416.08 268.1,416.68 272.02,416.38 275.95,416.07 279.87,415.76 283.8,415.73 287.73,416 291.65,416.26 295.58,416.53 299.5,416.7 303.43,416.7 307.36,416.7 311.28,416.7 315.21,415.4 319.13,413.76 323.06,412.13 326.99,410.81 330.91,410.44 334.84,410.07 338.76,410.22 342.69,411.78 346.62,413.34 350.54,415.02 354.47,416.98 358.39,418.95 362.32,421.27 366.25,424.22 370.17,427.18 374.1,428.51 378.02,429.83 381.95,431.14 385.88,432.11 389.8,432.59 393.73,433.08 397.65,433.56 401.58,434.05 405.51,434.56 409.43,435.09 413.36,435.61 417.28,436.14 421.21,436.97 425.14,438.5 429.06,440.01 432.99,440.55 436.91,441.08 440.84,441.62 444.77,441.81 448.69,441.61 452.62,441.41 456.54,441.22 460.47,439.99 464.4,438.67 468.32,437.34 472.25,436.06 476.17,434.88 480.1,433.69 484.03,433 487.95,433 491.88,433 495.8,433 499.73,433 503.66,431.41 507.58,429.06 511.51,426.71 515.43,422.81 519.36,418.24 523.29,413.66 527.21,409.07 531.14,404.37 535.06,399.67 538.99,394.97 542.92,390.27 546.84,385.56 550.77,381.68 554.69,380.69 558.62,379.7 562.55,378.72 566.47,378.61 570.4,378.92 574.32,379.23 578.25,379.38 582.18,378.33 586.1,377.28 590.03,376.23 593.95,375.18 597.88,374.78 601.81,374.62 605.73,374.75 609.66,375.61 613.58,376.47 617.51,377.33 621.44,378.26 625.36,379.25 629.29,380.23 633.21,381.22 637.14,382.21 641.07,383.19 644.99,384.16 648.92,385.13 652.84,386.1 656.77,387.07 660.7,389.02 664.62,391.46 668.55,394.15 672.47,398.07 676.4,402 680.33,405.93 684.25,409.56 688.18,412.84 692.1,416.13 696.03,419.41 699.96,421.91 703.88,424.11 707.81,426.32 711.73,426.71 715.66,426.09 719.59,425.48 723.51,424.39 727.44,422.9 731.36,421.26 735.29,417.65 739.22,414.05 743.14,410.45 747.07,406.51 750.99,401.94 754.92,397.36 758.85,392.79 762.77,387.99 766.7,383.05 770.62,378.28 774.55,374.4 778.48,370.52" fill="none" stroke="#c9363e" stroke-width="3.3" stroke-linejoin="round" stroke-linecap="round"/>
<rect x="702.4" y="146.6" width="76" height="146" fill="none" stroke="#2e2a2a" stroke-width="1.2" stroke-dasharray="6.8 1.8 1.3 2"/>
<line x1="109.5" y1="42.6" x2="220.2" y2="42.6" stroke="#6b8e23" stroke-width="5.4" stroke-linecap="round"/>
<line x1="109.5" y1="42.4" x2="775.5" y2="276.8" stroke="#6b8e23" stroke-width="5.6" stroke-linecap="round"/>
<line x1="109.5" y1="42.4" x2="133.8" y2="87.5" stroke="#cd5c48" stroke-opacity="0.72" stroke-width="9.2" stroke-linecap="round"/>
<line x1="133.8" y1="87.5" x2="149" y2="59.6" stroke="#cd5c48" stroke-opacity="0.72" stroke-width="9.2" stroke-linecap="round"/>
<line x1="149" y1="59.6" x2="227" y2="137" stroke="#cd5c48" stroke-opacity="0.72" stroke-width="9.2" stroke-linecap="round"/>
<line x1="227" y1="137" x2="243.3" y2="107" stroke="#cd5c48" stroke-opacity="0.72" stroke-width="9.2" stroke-linecap="round"/>
<line x1="243.3" y1="107" x2="266.6" y2="143" stroke="#cd5c48" stroke-opacity="0.72" stroke-width="9.2" stroke-linecap="round"/>
<line x1="266.6" y1="143" x2="274.4" y2="121.2" stroke="#cd5c48" stroke-opacity="0.72" stroke-width="9.2" stroke-linecap="round"/>
<line x1="274.4" y1="121.2" x2="297.3" y2="150.8" stroke="#cd5c48" stroke-opacity="0.72" stroke-width="9.2" stroke-linecap="round"/>
<line x1="297.3" y1="150.8" x2="322.6" y2="117" stroke="#d9a08a" stroke-opacity="0.62" stroke-width="9.2" stroke-linecap="round"/>
<line x1="322.6" y1="117" x2="375.6" y2="215.9" stroke="#e39a64" stroke-opacity="0.7" stroke-width="9.2" stroke-linecap="round"/>
<line x1="375.6" y1="215.9" x2="383.5" y2="192" stroke="#e39a64" stroke-opacity="0.7" stroke-width="9.2" stroke-linecap="round"/>
<line x1="383.5" y1="192" x2="452.6" y2="252.2" stroke="#e39a64" stroke-opacity="0.7" stroke-width="9.2" stroke-linecap="round"/>
<line x1="452.6" y1="252.2" x2="466" y2="225" stroke="#e39a64" stroke-opacity="0.7" stroke-width="9.2" stroke-linecap="round"/>
<line x1="466" y1="225" x2="485.2" y2="304" stroke="#e39a64" stroke-opacity="0.7" stroke-width="9.2" stroke-linecap="round"/>
<polyline points="109.5,42.4 133.8,87.5 149,59.6 227,137 243.3,107 266.6,143 274.4,121.2 297.3,150.8 322.6,117 375.6,215.9 383.5,192 452.6,252.2 466,225 485.2,304" fill="none" stroke="#000" stroke-width="2.1" stroke-linejoin="miter"/>
<g stroke="#6b7b42" stroke-width="1.6" fill="none"><path d="M216.8,46.3 L207.6,59.2 L220.3,59.2"/><path d="M211.6,53.2 Q215.2,55.2 215.4,59.2"/></g>
<text x="222.6" y="59.6" font-size="18.5" fill="#6b7b42" textLength="39.8" lengthAdjust="spacingAndGlyphs">41.0</text>
<text x="266.5" y="59.6" font-size="18.5" fill="#6b7b42">°</text>
<circle cx="130.9" cy="98.2" r="10.3" fill="#dc3012" stroke="#a52410" stroke-width="1.15"/>
<g transform="translate(130.9,98.2)" fill="#f8e6cc"><ellipse cx="0.15" cy="3.4" rx="1.3" ry="1.0" transform="rotate(-25 0.15 3.4)"/><rect x="0.9" y="-3.8" width="0.9" height="7.2"/></g>
<circle cx="153.3" cy="50" r="10.3" fill="#dc3012" stroke="#a52410" stroke-width="1.15"/>
<g transform="translate(153.3,50)" fill="#f8e6cc"><ellipse cx="-1.05" cy="3.4" rx="1.3" ry="1.0" transform="rotate(-25 -1.05 3.4)"/><rect x="-0.3" y="-3.8" width="0.9" height="7.2"/><path d="M0.3,-3.8 Q3.3,-2.4 2.7,0.4" fill="none" stroke="#f8e6cc" stroke-width="0.95"/></g>
<circle cx="223.4" cy="148" r="10.3" fill="#dc3012" stroke="#a52410" stroke-width="1.15"/>
<g transform="translate(223.4,148)" fill="#f8e6cc"><ellipse cx="-1.05" cy="3.4" rx="1.3" ry="1.0" transform="rotate(-25 -1.05 3.4)"/><rect x="-0.3" y="-3.8" width="0.9" height="7.2"/><path d="M0.3,-3.8 Q3.3,-2.4 2.7,0.4" fill="none" stroke="#f8e6cc" stroke-width="0.95"/></g>
<circle cx="247.9" cy="95.9" r="10.3" fill="#dc3012" stroke="#a52410" stroke-width="1.15"/>
<g transform="translate(247.9,95.9)" fill="#f8e6cc"><ellipse cx="-0.95" cy="3.7" rx="1.3" ry="1.0" transform="rotate(-25 -0.95 3.7)"/><ellipse cx="1.95" cy="3.9" rx="1.3" ry="1.0" transform="rotate(-25 1.95 3.9)"/><rect x="-0.1" y="-3.3" width="0.85" height="7.0"/><rect x="2.8" y="-3.3" width="0.85" height="7.2"/><rect x="-0.1" y="-3.6" width="3.75" height="1.5"/></g>
<circle cx="261.3" cy="154" r="10.3" fill="#dc3012" stroke="#a52410" stroke-width="1.15"/>
<g transform="translate(261.3,154)" fill="#f8e6cc"><ellipse cx="-0.95" cy="3.7" rx="1.3" ry="1.0" transform="rotate(-25 -0.95 3.7)"/><ellipse cx="1.95" cy="3.9" rx="1.3" ry="1.0" transform="rotate(-25 1.95 3.9)"/><rect x="-0.1" y="-3.3" width="0.85" height="7.0"/><rect x="2.8" y="-3.3" width="0.85" height="7.2"/><rect x="-0.1" y="-3.6" width="3.75" height="1.5"/></g>
<circle cx="279.9" cy="111.9" r="10.3" fill="#dc3012" stroke="#a52410" stroke-width="1.15"/>
<g transform="translate(279.9,111.9)" fill="#f8e6cc"><ellipse cx="-2.5" cy="3" rx="1.3" ry="1.0" transform="rotate(-25 -2.5 3)"/><ellipse cx="2.3" cy="2.8" rx="1.3" ry="1.0" transform="rotate(-25 2.3 2.8)"/><rect x="-1.6" y="-3.8" width="0.85" height="6.8"/><rect x="3.2" y="-3.8" width="0.85" height="6.6"/><rect x="-1.6" y="-3.9" width="5.65" height="1.2"/><rect x="-1.6" y="-1.6" width="5.65" height="1.2"/></g>
<circle cx="292" cy="160.3" r="10.3" fill="#dc3012" stroke="#a52410" stroke-width="1.15"/>
<g transform="translate(292,160.3)" fill="#f8e6cc"><ellipse cx="-2.5" cy="3" rx="1.3" ry="1.0" transform="rotate(-25 -2.5 3)"/><ellipse cx="2.3" cy="2.8" rx="1.3" ry="1.0" transform="rotate(-25 2.3 2.8)"/><rect x="-1.6" y="-3.8" width="0.85" height="6.8"/><rect x="3.2" y="-3.8" width="0.85" height="6.6"/><rect x="-1.6" y="-3.9" width="5.65" height="1.2"/><rect x="-1.6" y="-1.6" width="5.65" height="1.2"/></g>
<circle cx="373.3" cy="227" r="10" fill="#f49b3a" stroke="#8b4513" stroke-width="1.9"/>
<g transform="translate(373.3,227)" fill="#2a1608"><ellipse cx="0.15" cy="3.4" rx="1.3" ry="1.0" transform="rotate(-25 0.15 3.4)"/><rect x="0.9" y="-3.8" width="0.9" height="7.2"/></g>
<circle cx="388.3" cy="181.9" r="10" fill="#f49b3a" stroke="#8b4513" stroke-width="1.9"/>
<g transform="translate(388.3,181.9)" fill="#2a1608"><ellipse cx="-1.05" cy="3.4" rx="1.3" ry="1.0" transform="rotate(-25 -1.05 3.4)"/><rect x="-0.3" y="-3.8" width="0.9" height="7.2"/><path d="M0.3,-3.8 Q3.3,-2.4 2.7,0.4" fill="none" stroke="#2a1608" stroke-width="0.95"/></g>
<circle cx="449.6" cy="262.6" r="10" fill="#f49b3a" stroke="#8b4513" stroke-width="1.9"/>
<g transform="translate(449.6,262.6)" fill="#2a1608"><ellipse cx="-1.05" cy="3.4" rx="1.3" ry="1.0" transform="rotate(-25 -1.05 3.4)"/><rect x="-0.3" y="-3.8" width="0.9" height="7.2"/><path d="M0.3,-3.8 Q3.3,-2.4 2.7,0.4" fill="none" stroke="#2a1608" stroke-width="0.95"/></g>
<circle cx="471.3" cy="213" r="10" fill="#f49b3a" stroke="#8b4513" stroke-width="1.9"/>
<g transform="translate(471.3,213)" fill="#2a1608"><ellipse cx="-0.95" cy="3.7" rx="1.3" ry="1.0" transform="rotate(-25 -0.95 3.7)"/><ellipse cx="1.95" cy="3.9" rx="1.3" ry="1.0" transform="rotate(-25 1.95 3.9)"/><rect x="-0.1" y="-3.3" width="0.85" height="7.0"/><rect x="2.8" y="-3.3" width="0.85" height="7.2"/><rect x="-0.1" y="-3.6" width="3.75" height="1.5"/></g>
<circle cx="480.7" cy="311.5" r="10" fill="#f49b3a" stroke="#8b4513" stroke-width="1.9"/>
<g transform="translate(480.7,311.5)" fill="#2a1608"><ellipse cx="-0.95" cy="3.7" rx="1.3" ry="1.0" transform="rotate(-25 -0.95 3.7)"/><ellipse cx="1.95" cy="3.9" rx="1.3" ry="1.0" transform="rotate(-25 1.95 3.9)"/><rect x="-0.1" y="-3.3" width="0.85" height="7.0"/><rect x="2.8" y="-3.3" width="0.85" height="7.2"/><rect x="-0.1" y="-3.6" width="3.75" height="1.5"/></g>
<circle cx="116.3" cy="28.2" r="9.3" fill="#2a8fd8" stroke="#1d1464" stroke-width="1.9"/>
<text x="116.3" y="32.2" font-size="11" fill="#fff" text-anchor="middle">1</text>
<circle cx="327.4" cy="102.1" r="9.3" fill="#2a8fd8" stroke="#1d1464" stroke-width="1.9"/>
<text x="327.4" y="106.1" font-size="11" fill="#fff" text-anchor="middle">2</text>
<circle cx="720.2" cy="263.2" r="11.8" fill="#e22a12" stroke="#2a1250" stroke-width="2"/>
<text x="714.6" y="267.4" font-size="10.5" fill="#f6c88c" text-anchor="middle">1</text>
<g transform="translate(717.6,258.6)" stroke="#f6c88c" stroke-width="1.15" fill="none" stroke-linecap="round"><path d="M0.6,0.9 L8.9,0.9 L7.9,3.6"/><path d="M2.6,2.3 L3.5,3.1"/><path d="M2.1,3.9 L3.1,4.7"/><path d="M0.3,5.9 L9.8,5.9"/><path d="M5.7,3.4 Q5.5,7.6 1.1,9.7"/><path d="M6.0,7.0 L9.6,9.7"/></g>
<g stroke="#141414" stroke-width="0.8" stroke-linejoin="round">
<path d="M672.9,86.3 L664,87.7 L656.6,90 L647.8,95.9 L640.4,103.3 L636.7,109.2 L635.7,111.3 L636.3,116.4 L640.1,119 L640,125 L650,135 L664.2,136.7 L689.6,144.3 L691.6,147 L695.4,143.2 L696.6,136.9 L700.4,131.8 L708.1,126.7 L718.2,120.4 L722.1,120 L723.2,114.4 L725.3,110.2 L729.5,108 L735.9,103.8 L741.1,98.5 L745.9,96.4 L742.2,88 L742.2,83.7 L738,85.9 L733.7,87.4 L726.3,87.4 L720,89.6 L714.4,90.6 L708,90.6 L703,91.9 L699.2,93.1 L692.8,91.9 L680,89.3Z" fill="#3aaeea"/>
<path d="M640.1,119 L650,128 L664,131 L690,138 L700.4,131.8 L708.1,126.7 L718.2,120.4 L722.1,120 L723.2,114.4 L725.3,110.2 L729.5,108 L735.9,103.8 L741.1,98.5 L728,104 L712,112 L700,120 L690,126 L676,127 L660,122 L648,117Z" fill="#2f9ade" stroke="none"/>
<path d="M648,104 Q656,112 668,114 M700,118 Q708,112 716,108 M672,128 Q684,132 694,129 M705,97 Q712,100 722,96" fill="none" stroke-width="0.6"/>
<path d="M742.2,83.7 L749.6,82.7 L757,81.6 L762.3,78.5 L766.5,79.5 L764.4,81.6 L757,88 L751.7,92.2 L747.5,95.9 L745.4,96.4 L742.2,88Z" fill="#d42a1c"/>
<path d="M672.5,86.8 L675.1,84.3 L676.3,75.4 L679.5,66.5 L684,60.8 L689,57.6 L695.4,57.6 L701.7,60.1 L706.8,64 L710.6,69 L712.5,74.7 L715,77.3 L714.4,80.4 L712.5,83.6 L710,86.8 L706.8,90.6 L703,91.9 L699.2,93.1 L692.8,91.9 L680,89.3Z" fill="#e9c59f" stroke-dasharray="1.2 0.6"/>
<path d="M686.5,60.1 L685.2,69 L686.5,75.4 L690.3,77.3 L695.4,75.4 L700.4,66.5 L699.8,61.4 L695.4,58.2Z" fill="#dca170"/>
<circle cx="703.6" cy="70.9" r="1.7" fill="#111" stroke="none"/>
<ellipse cx="713.4" cy="77.4" rx="2" ry="2.4" fill="#111" stroke="none"/>
<path d="M701.5,80.6 Q704.5,85 709.5,84.6 M699.5,86.5 L704.5,90" fill="none" stroke-width="0.8"/>
<path d="M678.9,100.1 L708.1,102 L707.4,115.9 L693.5,123.5 L678.2,114Z" fill="#fbfbf8" stroke="#a3282a" stroke-width="1.8"/>
<text x="693.6" y="115.6" font-size="11" font-weight="bold" fill="#b8281f" stroke="none" text-anchor="middle">S</text>
<path d="M640.1,113.9 L646.5,113.2 L654.1,117.7 L660.4,121.5 L664.2,126.6 L665.5,135.4 L663,143 L655.4,144.3 L646.5,140.5 L640.1,136.7 L637.6,130.4 L635.1,125.3 L633.8,124 L640.1,121.5Z" fill="#d42a1c"/>
<path d="M634.5,124.5 L652,125.5" fill="none" stroke="#f4e4e0" stroke-width="0.9"/>
<path d="M663,141.8 L691.6,148 L688.1,150.5 L678.8,154 L674.2,157.4 L668.4,151.6Z" fill="#d42a1c"/>
<path d="M664.2,136.8 L690.5,143.6 L691.2,147.8 L663.4,141.6Z" fill="#111"/>
<rect x="677.4" y="143.6" width="4.2" height="2.8" fill="#fff" stroke="none"/>
<path d="M660.4,145.8 L673,156.9 L664.9,163.3 L656.7,170.2 L651.5,165 L655.6,155.1Z" fill="#3aaeea"/>
<path d="M650.5,163.5 L658.2,170.5 L646,179.5 L641.8,185.8 L638.4,188.2 L635.6,185 L637.8,176.5 L643.5,170Z" fill="#d42a1c"/>
<path d="M677.7,155.1 L688.1,150.5 L690.5,155.1 L691.6,167.9 L687,169 L681.2,165.6Z" fill="#3aaeea"/>
<path d="M671.9,166.7 L676.5,160.9 L681.2,163 L684.7,167.9 L674.2,169Z" fill="#d42a1c"/>
</g>
<g stroke="#4a5468" stroke-width="1.8" stroke-dasharray="5.8 2.6">
<line x1="298.9" y1="341.9" x2="298.9" y2="450.5"/>
<line x1="487.8" y1="341.9" x2="487.8" y2="450.5"/>
</g>
<line x1="299.2" y1="417.3" x2="487.6" y2="436.1" stroke="#808080" stroke-width="3"/>
<circle cx="299.2" cy="417.3" r="12.1" fill="#2a8fd8" stroke="#1d0c5a" stroke-width="1.9"/>
<text x="299.2" y="423" font-size="16" fill="#fff" text-anchor="middle">A</text>
<circle cx="487.6" cy="436.1" r="12.1" fill="#2a8fd8" stroke="#1d0c5a" stroke-width="1.9"/>
<text x="487.6" y="441.8" font-size="16" fill="#fff" text-anchor="middle">B</text>
<text x="71.2" y="439.2" font-size="10" fill="#262626">MACD (12,26,9)</text>
<rect x="34.5" y="10.0" width="780.9" height="325.4" fill="none" stroke="#c8c8c8" stroke-width="1.2"/>
<rect x="34.5" y="341.5" width="780.9" height="109" fill="none" stroke="#c8c8c8" stroke-width="1.2"/>
</svg></body></html>
